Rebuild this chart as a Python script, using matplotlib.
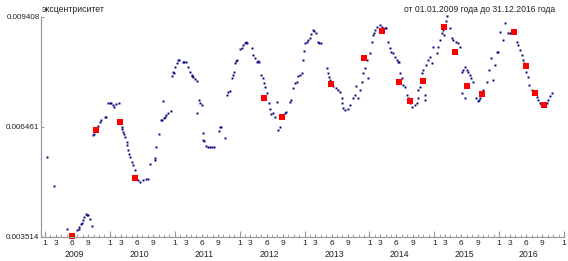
import matplotlib
matplotlib.use('Agg')
import matplotlib.pyplot as plt

# decimal year / eccentricity
blue_t = [2009.035, 2009.143, 2009.334, 2009.50, 2009.52, 2009.53, 2009.55, 2009.565, 2009.58, 2009.60,
          2009.627, 2009.64, 2009.658, 2009.693, 2009.72, 2009.745, 2009.755, 2009.79, 2009.81, 2009.847,
          2009.87, 2009.924, 2009.935, 2009.976, 2009.995, 2010.02, 2010.05, 2010.068, 2010.10, 2010.135,
          2010.18, 2010.19, 2010.207, 2010.22, 2010.233, 2010.259, 2010.27, 2010.284, 2010.30, 2010.31,
          2010.336, 2010.36, 2010.387, 2010.438, 2010.464, 2010.515, 2010.556, 2010.59, 2010.618, 2010.695,
          2010.70, 2010.71, 2010.757, 2010.783, 2010.80, 2010.823, 2010.834, 2010.85, 2010.865, 2010.90,
          2010.937, 2010.952, 2010.977, 2010.988, 2011.00, 2011.03, 2011.054, 2011.07, 2011.12, 2011.14,
          2011.17, 2011.208, 2011.234, 2011.26, 2011.27, 2011.285, 2011.31, 2011.337, 2011.337, 2011.373,
          2011.388, 2011.414, 2011.43, 2011.44, 2011.45, 2011.48, 2011.517, 2011.54, 2011.568, 2011.604,
          2011.686, 2011.696, 2011.72, 2011.773, 2011.81, 2011.825, 2011.85, 2011.877, 2011.892, 2011.913,
          2011.928, 2011.943, 2011.964, 2012.005, 2012.03, 2012.056, 2012.082, 2012.10, 2012.117, 2012.185,
          2012.21, 2012.236, 2012.262, 2012.28, 2012.30, 2012.323, 2012.354, 2012.374, 2012.39, 2012.425,
          2012.456, 2012.467, 2012.477, 2012.508, 2012.544, 2012.58, 2012.595, 2012.62, 2012.698, 2012.72,
          2012.775, 2012.79, 2012.826, 2012.852, 2012.878, 2012.903, 2012.93, 2012.955, 2012.98, 2012.995,
          2013.006, 2013.032, 2013.057, 2013.083, 2013.10, 2013.125, 2013.145, 2013.171, 2013.211, 2013.23,
          2013.248, 2013.34, 2013.366, 2013.38, 2013.40, 2013.442, 2013.484, 2013.52, 2013.545, 2013.57,
          2013.575, 2013.587, 2013.622, 2013.673, 2013.70, 2013.74, 2013.776, 2013.80, 2013.827, 2013.853,
          2013.879, 2013.905, 2013.93, 2013.956, 2013.98, 2014.008, 2014.034, 2014.05, 2014.07, 2014.086,
          2014.12, 2014.163, 2014.19, 2014.24, 2014.26, 2014.29, 2014.316, 2014.34, 2014.367, 2014.393,
          2014.42, 2014.444, 2014.46, 2014.47, 2014.496, 2014.52, 2014.547, 2014.573, 2014.60, 2014.624,
          2014.65, 2014.70, 2014.726, 2014.75, 2014.752, 2014.78, 2014.804, 2014.83, 2014.855, 2014.86,
          2014.88, 2014.906, 2014.93, 2014.958, 2014.983, 2015.036, 2015.06, 2015.086, 2015.113, 2015.14,
          2015.15, 2015.163, 2015.18, 2015.20, 2015.24, 2015.266, 2015.29, 2015.333, 2015.37, 2015.39,
          2015.42, 2015.42, 2015.44, 2015.47, 2015.47, 2015.50, 2015.52, 2015.55, 2015.573, 2015.60,
          2015.65, 2015.676, 2015.69, 2015.70, 2015.756, 2015.815, 2015.846, 2015.88, 2015.908, 2015.934,
          2015.96, 2015.975, 2016.01, 2016.062, 2016.087, 2016.14, 2016.16, 2016.18, 2016.278, 2016.294,
          2016.32, 2016.345, 2016.37, 2016.39, 2016.42, 2016.45, 2016.46, 2016.50, 2016.525, 2016.576,
          2016.60, 2016.627, 2016.65, 2016.73, 2016.754, 2016.78, 2016.807]
blue_e = [0.005657, 0.004889, 0.003721, 0.003702, 0.003730, 0.003774, 0.003863, 0.003900, 0.003970, 0.004058,
          0.004122, 0.004110, 0.004095, 0.004005, 0.003817, 0.006247, 0.006270, 0.006400, 0.006480, 0.006603,
          0.006640, 0.006737, 0.006720, 0.007096, 0.007110, 0.007090, 0.007040, 0.007005, 0.007070, 0.007096,
          0.006469, 0.006420, 0.006335, 0.006280, 0.006201, 0.006067, 0.005980, 0.005845, 0.005740, 0.005666,
          0.005531, 0.005443, 0.005309, 0.005041, 0.004996, 0.005041, 0.005060, 0.005060, 0.005470, 0.005577,
          0.005620, 0.005933, 0.006265, 0.006649, 0.006660, 0.007158, 0.006694, 0.006740, 0.006783, 0.006828,
          0.006898, 0.007827, 0.007943, 0.007900, 0.008060, 0.008168, 0.008256, 0.008250, 0.008194, 0.008210,
          0.008194, 0.008077, 0.007943, 0.007854, 0.007830, 0.007792, 0.007747, 0.007702, 0.006828, 0.007184,
          0.007112, 0.007050, 0.006308, 0.006113, 0.006090, 0.005952, 0.005933, 0.005925, 0.005917, 0.005917,
          0.006362, 0.006469, 0.006453, 0.006158, 0.007318, 0.007407, 0.007434, 0.007766, 0.007854, 0.007943,
          0.008168, 0.008237, 0.008256, 0.008543, 0.008569, 0.008658, 0.008720, 0.008730, 0.008720, 0.008569,
          0.008390, 0.008302, 0.008210, 0.008220, 0.008210, 0.007854, 0.007766, 0.007648, 0.007541, 0.007364,
          0.007112, 0.006935, 0.006809, 0.006844, 0.006737, 0.007139, 0.006381, 0.006469, 0.006844, 0.006860,
          0.007139, 0.007180, 0.007498, 0.007632, 0.007675, 0.007827, 0.007860, 0.007900, 0.008256, 0.008500,
          0.008703, 0.008746, 0.008792, 0.008837, 0.008950, 0.009060, 0.009041, 0.008988, 0.008746, 0.008720,
          0.008703, 0.008034, 0.007900, 0.007809, 0.007720, 0.007559, 0.007498, 0.007452, 0.007407, 0.007230,
          0.007096, 0.006962, 0.006917, 0.006935, 0.007050, 0.007230, 0.007318, 0.007559, 0.007230, 0.007452,
          0.007675, 0.007900, 0.008034, 0.008256, 0.007766, 0.008434, 0.008746, 0.008926, 0.008971, 0.009060,
          0.009150, 0.009194, 0.009132, 0.009105, 0.009100, 0.008746, 0.008569, 0.008478, 0.008434, 0.008344,
          0.008256, 0.008210, 0.008190, 0.007900, 0.007766, 0.007586, 0.007541, 0.007318, 0.007230, 0.007096,
          0.007005, 0.007050, 0.007096, 0.007230, 0.007452, 0.007541, 0.007900, 0.007988, 0.007318, 0.007180,
          0.008122, 0.008256, 0.008344, 0.008168, 0.008612, 0.008434, 0.008612, 0.008792, 0.008971, 0.009060,
          0.008926, 0.009194, 0.009300, 0.009430, 0.009105, 0.008837, 0.008792, 0.008746, 0.008703, 0.008612,
          0.007943, 0.007364, 0.008000, 0.008077, 0.007230, 0.007988, 0.007930, 0.007854, 0.007766, 0.007675,
          0.007230, 0.007166, 0.007190, 0.007230, 0.007452, 0.007675, 0.007988, 0.008302, 0.007720, 0.008122,
          0.008478, 0.008480, 0.009014, 0.008792, 0.009239, 0.008971, 0.008990, 0.008990, 0.008746, 0.008658,
          0.008524, 0.008390, 0.008256, 0.008170, 0.007943, 0.007809, 0.007586, 0.007452, 0.007407, 0.007273,
          0.007184, 0.007112, 0.007077, 0.007096, 0.007184, 0.007291, 0.007380]

red_t = [2009.41, 2009.786, 2010.156, 2010.391, 2012.374, 2012.652, 2013.402, 2013.92, 2014.20, 2014.45,
         2014.63, 2014.83, 2015.153, 2015.32, 2015.50, 2015.73, 2016.234, 2016.41, 2016.55, 2016.693]
red_e = [0.003549, 0.006381, 0.006587, 0.005103, 0.007246, 0.006737, 0.007613, 0.008318, 0.009033, 0.007667,
         0.007150, 0.007694, 0.009132, 0.008478, 0.007559, 0.007345, 0.009006, 0.008095, 0.007364, 0.007058]

y_ticks = [0.003514, 0.006461, 0.009408]
years = list(range(2009, 2017))
month_labels = [1, 3, 6, 9]

plt.rcParams['font.family'] = ['Liberation Sans', 'DejaVu Sans']

fig = plt.figure(figsize=(5.68, 2.61), dpi=100)
ax = fig.add_axes([0.0722, 0.092, 0.9208, 0.843])

ax.plot(blue_t, blue_e, 's', color='#00007a', markersize=1.4, markeredgewidth=0, clip_on=False)
ax.plot(red_t, red_e, 's', color='#ff0000', markersize=4.6, markeredgewidth=0, clip_on=False)

ax.set_xlim(2008.938, 2017.0)
ax.set_ylim(y_ticks[0], y_ticks[-1])

for s in ['top', 'right']:
    ax.spines[s].set_visible(False)
for s in ['left', 'bottom']:
    ax.spines[s].set_color('#9a9a9a')
    ax.spines[s].set_linewidth(0.9)

ax.set_yticks(y_ticks, labels=['%.6f' % v for v in y_ticks])
ax.tick_params(axis='y', direction='in', length=2, color='#9a9a9a', labelsize=5.8, pad=1,
               labelcolor='#222222')

# month ticks
pos, labs = [], []
for y in years:
    for m in month_labels:
        pos.append(y + (m - 1) / 12)
        labs.append(str(m))
pos.append(2017.0)
labs.append('1')
ax.set_xticks(pos, labels=labs)
ax.set_xticks([y + m / 12 for y in years for m in range(12)], minor=True)
ax.tick_params(axis='x', which='major', direction='in', length=2.5, color='#9a9a9a',
               labelsize=6, pad=2, labelcolor='#222222')
ax.tick_params(axis='x', which='minor', direction='in', length=2, color='#9a9a9a')

# year boundary ticks
sec = ax.secondary_xaxis('bottom')
sec.set_xticks([float(y) for y in years] + [2017.0], labels=[''] * 9)
sec.tick_params(direction='in', length=4, color='#9a9a9a')
sec.spines['bottom'].set_visible(False)

# year labels
sec2 = ax.secondary_xaxis('bottom')
sec2.set_xticks([y + 5.5 / 12 for y in years], labels=[str(y) for y in years])
sec2.tick_params(length=0, labelsize=6.3, pad=9.5, labelcolor='#222222')
sec2.spines['bottom'].set_visible(False)

fig.text(0.074, 0.965, 'эксцентриситет', fontsize=6.2, color='#222222', va='center', ha='left')
fig.text(0.978, 0.965, 'от 01.01.2009 года до 31.12.2016 года', fontsize=6.2, color='#222222',
         va='center', ha='right')

fig.savefig('out.png', dpi=100)
